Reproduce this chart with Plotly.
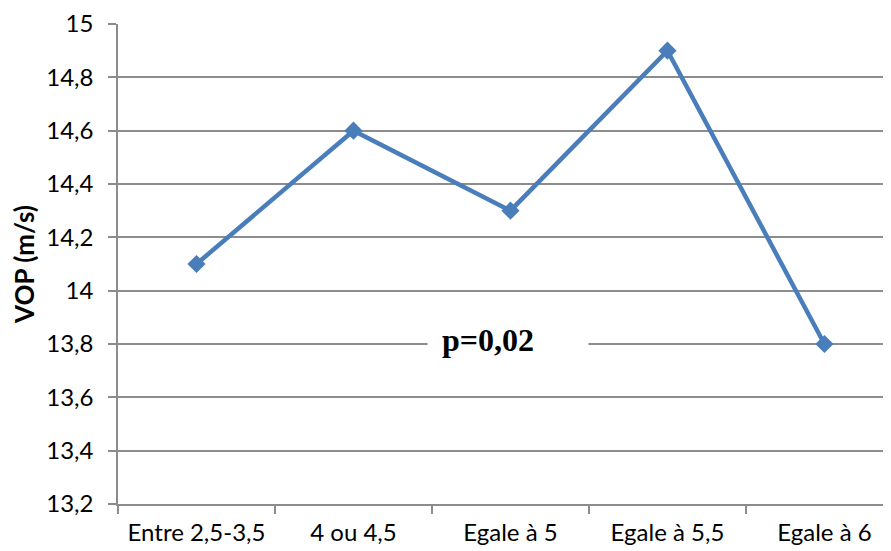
import plotly.graph_objects as go

categories = ["Entre 2,5-3,5", "4 ou 4,5", "Egale à 5", "Egale à 5,5", "Egale à 6"]
vop_values = [14.1, 14.6, 14.3, 14.9, 13.8]
y_tick_values = [13.2, 13.4, 13.6, 13.8, 14.0, 14.2, 14.4, 14.6, 14.8, 15.0]
y_tick_labels = ["13,2", "13,4", "13,6", "13,8", "14", "14,2", "14,4", "14,6", "14,8", "15"]
p_label = "p=0,02"

grid = "#8C8C8C"
fig = go.Figure()
fig.add_trace(go.Scatter(
    x=categories, y=vop_values, mode="lines+markers",
    line=dict(color="#4A7EBB", width=4.5),
    marker=dict(symbol="diamond", size=14, color="#4A7EBB"),
    showlegend=False,
))

fig.add_annotation(
    x=2, y=13.8, xref="x", yref="y", text="<b>" + p_label + "</b>",
    showarrow=False, bgcolor="white", width=132, height=36, borderpad=14,
    align="left",
    font=dict(family="Liberation Serif", size=32, color="black"),
    xshift=-2.5, yshift=4,
)

fig.update_layout(
    width=891, height=551,
    margin=dict(l=110, r=0, t=16, b=55),
    paper_bgcolor="white", plot_bgcolor="white",
    font=dict(family="Lato", size=24, color="black"),
    xaxis=dict(
        type="category", range=[-0.5, 4.475],
        showgrid=False, showline=True, linecolor=grid, linewidth=1.5,
        ticks="outside", tickson="boundaries", ticklen=8, tickcolor=grid, tickwidth=1.5,
        ticklabelstandoff=6,
        tickfont=dict(family="Lato", size=24), zeroline=False,
    ),
    yaxis=dict(
        range=[13.2, 15.0], tickvals=y_tick_values, ticktext=y_tick_labels,
        showgrid=True, gridcolor=grid, gridwidth=1.5,
        showline=True, linecolor=grid, linewidth=1.5,
        ticks="outside", ticklen=8, tickcolor=grid, tickwidth=1.5,
        ticklabelstandoff=10, zeroline=False,
        tickfont=dict(family="Lato", size=24),
        title=dict(text="<b>VOP (m/s)</b>", font=dict(family="Lato", size=26), standoff=12),
    ),
)

fig.write_html("out.html")
